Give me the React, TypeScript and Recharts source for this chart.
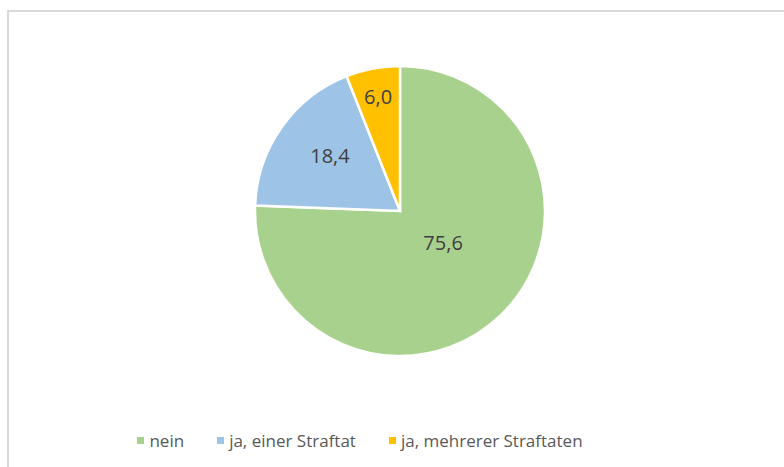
import React from 'react';
import { PieChart, Pie, Cell, Legend } from 'recharts';

const categories = ['nein', 'ja, einer Straftat', 'ja, mehrerer Straftaten'];
const shares = [75.6, 18.4, 6.0];
const colors = ['#A9D18E', '#9DC3E6', '#FFC000'];

// label placement inside each slice (fraction of radius, angle shift in degrees)
const labelRadius = [0.368, 0.616, 0.807];
const labelShift = [9.9, -3.1, 0];

const data = categories.map((name, i) => ({ name, value: shares[i] }));

const RADIAN = Math.PI / 180;
const fontFamily = '"Open Sans", "Noto Sans", sans-serif';

const renderLabel = (props: any) => {
  const { cx, cy, midAngle, outerRadius, index, value } = props;
  const r = outerRadius * labelRadius[index];
  const a = (midAngle + labelShift[index]) * RADIAN;
  const x = cx + r * Math.cos(a);
  const y = cy - r * Math.sin(a);
  return (
    <text
      x={x}
      y={y}
      fill="#404040"
      fontSize={20}
      fontFamily={fontFamily}
      textAnchor="middle"
      dominantBaseline="central"
    >
      {value.toFixed(1).replace('.', ',')}
    </text>
  );
};

const renderLegend = () => (
  <div
    style={{
      display: 'flex',
      justifyContent: 'center',
      alignItems: 'center',
      gap: 33,
      fontFamily,
      fontSize: 17,
      color: '#595959',
    }}
  >
    {categories.map((c, i) => (
      <div key={c} style={{ display: 'flex', alignItems: 'center' }}>
        <span
          style={{
            display: 'inline-block',
            width: 7,
            height: 7,
            background: colors[i],
            marginRight: 5,
          }}
        />
        <span>{c}</span>
      </div>
    ))}
  </div>
);

export default function App() {
  return (
    <div style={{ position: 'absolute', left: 0, top: 0, width: 784, height: 467, overflow: 'hidden', background: '#fff' }}>
      <div
        style={{
          position: 'absolute',
          left: 7,
          top: 10,
          width: 800,
          height: 480,
          border: '2px solid #D9D9D9',
          boxSizing: 'border-box',
        }}
      />
      <div style={{ position: 'absolute', left: 0, top: 0 }}>
        <PieChart width={784} height={467} margin={{ top: 0, right: 0, bottom: 0, left: 0 }}>
          <Pie
            data={data}
            dataKey="value"
            nameKey="name"
            cx={400}
            cy={211}
            outerRadius={145}
            startAngle={90}
            endAngle={-270}
            stroke="#FFFFFF"
            strokeWidth={2.5}
            label={renderLabel}
            labelLine={false}
            isAnimationActive={false}
          >
            {data.map((d, i) => (
              <Cell key={d.name} fill={colors[i]} />
            ))}
          </Pie>
          <Legend
            content={renderLegend}
            wrapperStyle={{ position: 'absolute', left: -32, top: 429, width: 784 }}
          />
        </PieChart>
      </div>
    </div>
  );
}
